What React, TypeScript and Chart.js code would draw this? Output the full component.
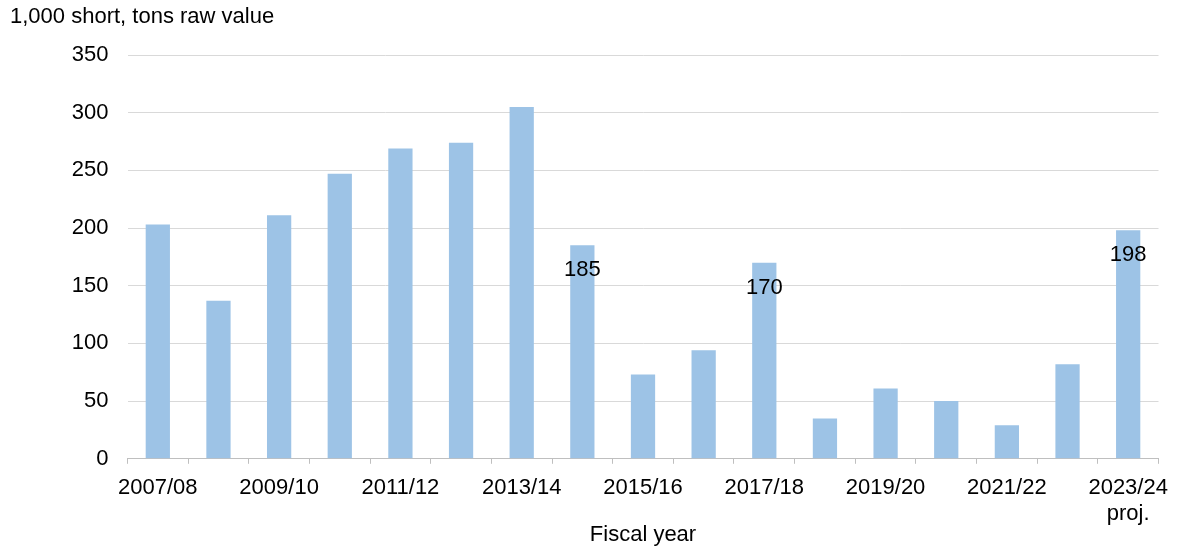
import React, { useEffect, useRef } from "react";
import { Chart, registerables } from "chart.js";

Chart.register(...registerables);

const categories = [
  "2007/08", "2008/09", "2009/10", "2010/11", "2011/12", "2012/13", "2013/14",
  "2014/15", "2015/16", "2016/17", "2017/18", "2018/19", "2019/20", "2020/21",
  "2021/22", "2022/23", "2023/24",
];
const values = [203, 137, 211, 247, 269, 274, 305, 185, 73, 94, 170, 35, 61, 50, 29, 82, 198];
const labeledIndexes = [7, 10, 16];
const yTicks = [0, 50, 100, 150, 200, 250, 300, 350];
const yTitle = "1,000 short, tons raw value";
const xTitle = "Fiscal year";
const projSuffix = "proj.";

const FONT = "'Liberation Sans', Arial, sans-serif";
const FS = 22;

export default function App() {
  const ref = useRef<HTMLCanvasElement | null>(null);
  useEffect(() => {
    if (!ref.current) return;
    const labelPlugin = {
      id: "valueLabels",
      afterDatasetsDraw(chart: any) {
        const ctx = chart.ctx;
        const meta = chart.getDatasetMeta(0);
        ctx.save();
        ctx.font = `${FS}px ${FONT}`;
        ctx.fillStyle = "#000";
        ctx.textAlign = "center";
        ctx.textBaseline = "middle";
        labeledIndexes.forEach((i) => {
          const el = meta.data[i];
          ctx.fillText(String(values[i]), el.x, el.y + 25);
        });
        ctx.restore();
      },
    };
    const chart = new Chart(ref.current, {
      type: "bar",
      data: {
        labels: categories,
        datasets: [
          {
            data: values,
            backgroundColor: "#9DC3E6",
            barPercentage: 0.4,
            categoryPercentage: 1,
          },
        ],
      },
      options: {
        animation: false,
        responsive: true,
        maintainAspectRatio: false,
        layout: { padding: { left: 10, right: 18.5, top: 0, bottom: 0 } },
        plugins: {
          legend: { display: false },
          tooltip: { enabled: false },
          title: {
            display: true,
            text: yTitle,
            align: "start",
            color: "#000",
            font: { family: FONT, size: FS, weight: "normal" },
            padding: { top: 4, bottom: 24.6 },
          },
        },
        scales: {
          x: {
            offset: true,
            afterFit: (axis: any) => {
              axis.paddingRight = 0;
              axis.paddingLeft = 0;
            },
            grid: {
              offset: true,
              drawOnChartArea: false,
              drawTicks: true,
              tickLength: 5,
              color: "#BFBFBF",
            },
            border: { color: "#BFBFBF" },
            ticks: {
              autoSkip: false,
              maxRotation: 0,
              minRotation: 0,
              padding: 11,
              color: "#000",
              font: { family: FONT, size: FS },
              callback: (_v: any, i: number) => {
                if (i % 2 !== 0) return "";
                if (i === categories.length - 1) return [categories[i], projSuffix];
                return categories[i];
              },
            },
            title: {
              display: true,
              text: xTitle,
              color: "#000",
              font: { family: FONT, size: FS },
              padding: { top: -17, bottom: 2 },
            },
          },
          y: {
            min: 0,
            max: 350,
            afterBuildTicks: (axis: any) => {
              axis.ticks = yTicks.map((v) => ({ value: v }));
            },
            afterFit: (axis: any) => {
              axis.width = 117.5;
            },
            grid: { color: "#D9D9D9", drawTicks: false },
            border: { display: false },
            ticks: {
              padding: 19,
              color: "#000",
              font: { family: FONT, size: FS },
            },
          },
        },
      },
      plugins: [labelPlugin],
    });
    return () => chart.destroy();
  }, []);
  return (
    <div style={{ position: "fixed", left: 0, top: 0, width: 1177, height: 550, background: "#fff" }}>
      <canvas ref={ref} />
    </div>
  );
}
